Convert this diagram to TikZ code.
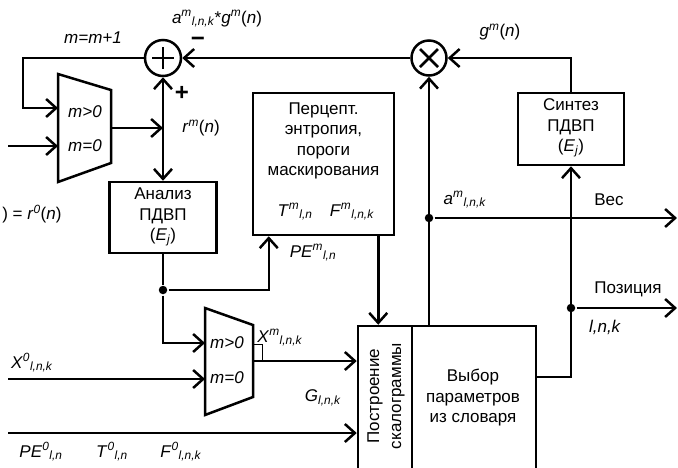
\documentclass[tikz,border=0pt]{standalone}
\usepackage{fontspec}
\setmainfont{Liberation Sans}
\usetikzlibrary{arrows.meta,calc}
\newcommand\lsym[3]{\textit{#1}\textsuperscript{\textit{#2}}\textsubscript{\textit{#3}}}
\begin{document}
\begin{tikzpicture}[x=1pt,y=-1pt, line width=2.5pt,
  arr/.style={-{Straight Barb[length=10pt,width=18pt]}},
  arrboth/.style={{Straight Barb[length=10pt,width=18pt]}-{Straight Barb[length=10pt,width=18pt]}},
  blk/.style={draw, rectangle, inner sep=0pt},
  txt/.style={inner sep=0pt, align=center, font=\fontsize{17}{20.5}\selectfont},
  dot/.style={circle, fill, inner sep=0pt, minimum size=8.5pt},
  op/.style={draw, circle, inner sep=0pt}]
\useasboundingbox (0,0) rectangle (678,467);
\clip (0,0) rectangle (678,467);
% operators
\node[op, minimum size=36pt] (sum) at (163,58) {};
\node[op, minimum size=35pt] (mult) at (429,58) {};
\draw (sum.center) +(-11,0) -- +(11,0);
\draw (sum.center) +(0,-11) -- +(0,11);
\draw (mult.center) +(-9,-9) -- +(9,9);
\draw (mult.center) +(-9,9) -- +(9,-9);
% blocks
\node[blk, minimum width=107pt, minimum height=71pt] (ana) at (163,217.5) {};
\node[blk, minimum width=141pt, minimum height=142pt] (perc) at (323.5,164) {};
\node[blk, minimum width=106pt, minimum height=72pt] (synt) at (571,129) {};
\node[blk, minimum width=54pt, minimum height=160pt] (post) at (385,406) {};
\node[blk, minimum width=124pt, minimum height=160pt] (vyb) at (474,406) {};
% multiplexers
\draw (58,74) -- (111,90) -- (111,163) -- (58,182) -- cycle;
\coordinate (m1a) at (58,108);
\coordinate (m1b) at (58,146);
\coordinate (m1o) at (111,128);
\draw (205,308) -- (253,325) -- (253,397) -- (205,415) -- cycle;
\coordinate (m2a) at (205,343);
\coordinate (m2b) at (205,379);
\coordinate (m2o) at (253,361);
\draw[line width=1pt] (253,344) rectangle (262,361);
% junctions and free ends
\node[dot] (j1) at (163,290) {};
\node[dot] (j2) at (429,218) {};
\node[dot] (j3) at (571,308) {};
\coordinate (fb) at (23,108);
\coordinate (rin) at (8,146);
\coordinate (rj) at (163,128);
\coordinate (xin) at (8,379);
\coordinate (pin) at (8,433);
\coordinate (wout) at (677,218);
\coordinate (pout) at (677,308);
\coordinate (vout) at (536,377);
\coordinate (pein) at ([xshift=17pt]perc.south west);
\coordinate (pb) at ([xshift=-17pt]perc.south east);
% connectors
\draw[arr] (sum.west) -| (fb) -- (m1a);
\draw[arr] (rin) -- (m1b);
\draw[arr] (m1o) -- (rj);
\draw[arrboth] (sum.south) -- (ana.north);
\draw (ana.south) -- (j1);
\draw[arr] (j1) -| (pein);
\draw[arr] (j1) |- (m2a);
\draw[arr] (xin) -- (m2b);
\draw[arr] (m2o) -- (m2o -| post.west);
\draw[arr] (pin) -- (pin -| post.west);
\draw[arr] (pb) -- (pb |- post.north);
\draw[arr] (mult |- vyb.north) -- (mult.south);
\draw[arr] (j2) -- (wout);
\draw[arr] (vout) -| (synt.south);
\draw[arr] (j3) -- (pout);
\draw[arr] (synt.north) |- (mult.east);
\draw[arr] (mult.west) -- (sum.east);
% texts
\node[txt] (t1) at (93,38) {\textit{m=m+1}};
\node[txt] (t2) at (217,19) {\lsym{a}{m}{l,n,k}*\textit{g}\textsuperscript{\textit{m}}(\textit{n})};
\node[txt, anchor=base, font=\fontsize{24}{24}\selectfont\bfseries] (t3) at (198,46) {−};
\node[txt, anchor=base, font=\fontsize{24}{24}\selectfont\bfseries] (t4) at (182,100) {+};
\node[txt] (t5) at (201,128) {\textit{r}\textsuperscript{\textit{m}}(\textit{n})};
\node[txt] (t6) at (500,32) {\textit{g}\textsuperscript{\textit{m}}(\textit{n})};
\node[txt, anchor=west] (t7) at (1,214) {) = \textit{r}\textsuperscript{\textit{0}}(\textit{n})};
\node[txt] (t8) at (85,112) {\textit{m>0}};
\node[txt] (t9) at (85,146) {\textit{m=0}};
\node[txt] (t10) at (227,343) {\textit{m>0}};
\node[txt] (t11) at (227,378) {\textit{m=0}};
\node[txt] (t12) at (163,217) {Анализ\\ПДВП\\(\textit{E}\textsubscript{\textit{j}})};
\node[txt] (t13) at (323.5,141) {Перцепт.\\энтропия,\\пороги\\маскирования};
\node[txt] (t14) at (295,212) {\lsym{T}{m}{l,n}};
\node[txt] (t15) at (352,212) {\lsym{F}{m}{l,n,k}};
\node[txt] (t16) at (313,253) {\lsym{PE}{m}{l,n}};
\node[txt] (t17) at (280,338) {\lsym{X}{m}{l,n,k}};
\node[txt] (t18) at (32,363) {\lsym{X}{0}{l,n,k}};
\node[txt] (t19) at (323,398) {\textit{G}\textsubscript{\textit{l,n,k}}};
\node[txt] (t20) at (41,452) {\lsym{PE}{0}{l,n}};
\node[txt] (t21) at (112,452) {\lsym{T}{0}{l,n}};
\node[txt] (t22) at (181,452) {\lsym{F}{0}{l,n,k}};
\node[txt] (t23) at (465,200) {\lsym{a}{m}{l,n,k}};
\node[txt] (t24) at (609,200) {Вес};
\node[txt] (t25) at (628,289) {Позиция};
\node[txt] (t26) at (605,327) {\textit{l,n,k}};
\node[txt] (t27) at (571,128) {Синтез\\ПДВП\\(\textit{E}\textsubscript{\textit{j}})};
\node[txt] (t28) at (473,398) {Выбор\\параметров\\из словаря};
\node[txt, rotate=90, font=\fontsize{17}{22}\selectfont] (t29) at (386,396) {Построение\\скалограммы};
\end{tikzpicture}
\end{document}
